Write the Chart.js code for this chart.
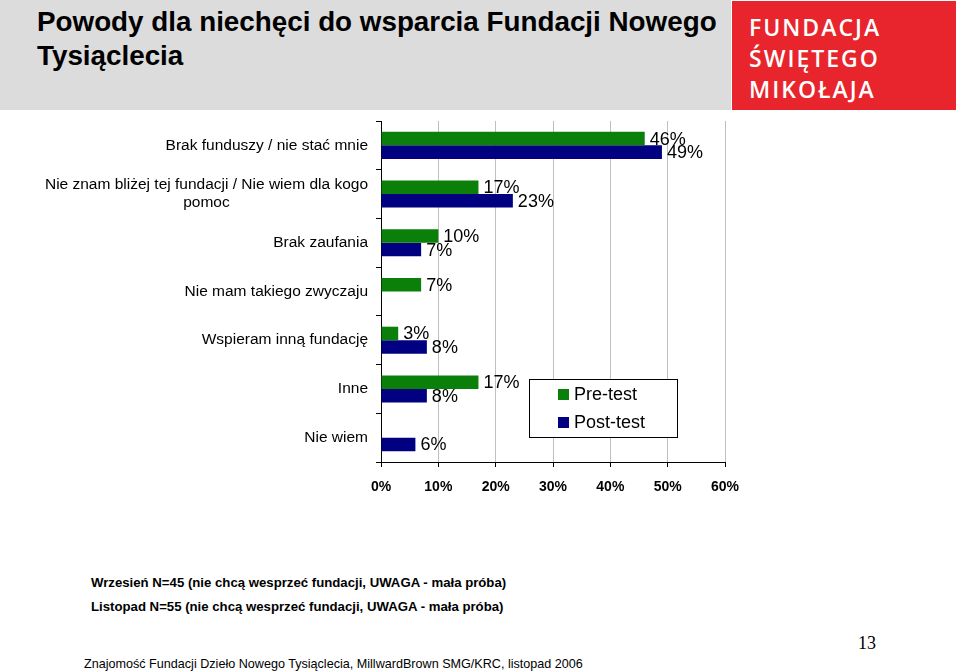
<!DOCTYPE html>
<html>
<head>
<meta charset="utf-8">
<script src="https://cdn.jsdelivr.net/npm/chart.js"></script>
<style>
body { margin: 0; width: 960px; height: 672px; position: relative; background: #fff; overflow: hidden;
       font-family: "Liberation Sans", Arial, sans-serif; color: #000; }
#head { position: absolute; left: 0; top: 0; width: 731px; height: 110px; background: #dcdcdc; }
#title { position: absolute; left: 37px; top: 5px; font-size: 27.8px; font-weight: bold; line-height: 34px; }
#logo { position: absolute; left: 732px; top: 1px; width: 224px; height: 109px; background: #e8252c; }
#logo div { position: absolute; left: 17px; top: 11px; color: #fff; font-family: "Open Sans", sans-serif;
            font-weight: 600; font-size: 23px; line-height: 31px; letter-spacing: 2px; }
#notes { position: absolute; left: 91px; top: 571px; font-size: 13.2px; font-weight: bold; line-height: 24px; }
#source { position: absolute; left: 84px; top: 657px; font-size: 12.6px; }
#page { position: absolute; left: 858px; top: 633px; font-family: "Liberation Serif", serif; font-size: 18px; }
#myChart { position: absolute; left: 0; top: 0; }
</style>
</head>
<body>
<div id="head"><div id="title">Powody dla niechęci do wsparcia Fundacji Nowego<br>Tysiąclecia</div></div>
<div id="logo"><div>FUNDACJA<br>ŚWIĘTEGO<br>MIKOŁAJA</div></div>
<div id="notes">Wrzesień N=45 (nie chcą wesprzeć fundacji, UWAGA - mała próba)<br>Listopad N=55 (nie chcą wesprzeć fundacji, UWAGA - mała próba)</div>
<div id="source">Znajomość Fundacji Dzieło Nowego Tysiąclecia, MillwardBrown SMG/KRC, listopad 2006</div>
<div id="page">13</div>
<canvas id="myChart" width="960" height="672"></canvas>
<script>
const kategorie = [
    'Brak funduszy / nie stać mnie',
    ['Nie znam bliżej tej fundacji / Nie wiem dla kogo', 'pomoc'],
    'Brak zaufania',
    'Nie mam takiego zwyczaju',
    'Wspieram inną fundację',
    'Inne',
    'Nie wiem'
];
const preTest = [46, 17, 10, 7, 3, 17, null];
const postTest = [49, 23, 7, null, 8, 8, 6];
const serie = ['Pre-test', 'Post-test'];
const xMin = 0, xMax = 60, xKrok = 10;

const FONT = '"Liberation Sans", Arial, sans-serif';

// etykiety kategorii: jedna linia do prawej, kilka linii wyśrodkowane
const etykietyY = {
    id: 'etykietyY',
    afterDraw(chart) {
        const ctx = chart.ctx, y = chart.scales.y;
        const prawo = chart.chartArea.left - 13;
        ctx.save();
        ctx.font = '15.5px ' + FONT;
        ctx.fillStyle = '#000';
        ctx.textAlign = 'center';
        ctx.textBaseline = 'middle';
        kategorie.forEach((k, i) => {
            const linie = Array.isArray(k) ? k : [k];
            const w = Math.max(...linie.map(l => ctx.measureText(l).width));
            const cy = y.getPixelForValue(i);
            linie.forEach((l, j) => {
                ctx.fillText(l, prawo - w / 2, cy + (j - (linie.length - 1) / 2) * 18);
            });
        });
        ctx.restore();
    }
};

// wartosci przy slupkach
const wartosci = {
    id: 'wartosci',
    afterDatasetsDraw(chart) {
        const ctx = chart.ctx;
        ctx.save();
        ctx.font = '18px ' + FONT;
        ctx.fillStyle = '#000';
        ctx.textAlign = 'left';
        ctx.textBaseline = 'middle';
        chart.data.datasets.forEach((ds, d) => {
            chart.getDatasetMeta(d).data.forEach((bar, i) => {
                if (ds.data[i] == null) return;
                ctx.fillText(ds.data[i] + '%', bar.x + 5, bar.y + 1);
            });
        });
        ctx.restore();
    }
};

// legenda w ramce wewnatrz wykresu
const legenda = {
    id: 'legenda',
    afterDraw(chart) {
        const ctx = chart.ctx;
        const lx = 529, ly = 379, lw = 148, lh = 58;
        ctx.save();
        ctx.fillStyle = '#fff';
        ctx.fillRect(lx, ly, lw, lh);
        ctx.strokeStyle = '#000';
        ctx.lineWidth = 1;
        ctx.strokeRect(lx + 0.5, ly + 0.5, lw, lh);
        ctx.font = '18px ' + FONT;
        ctx.textAlign = 'left';
        ctx.textBaseline = 'middle';
        chart.data.datasets.forEach((ds, d) => {
            ctx.fillStyle = ds.backgroundColor;
            ctx.fillRect(lx + 29, ly + 10 + d * 28, 11, 11);
            ctx.fillStyle = '#000';
            ctx.fillText(ds.label, lx + 45, ly + 16 + d * 28);
        });
        ctx.restore();
    }
};

const ctx = document.getElementById('myChart');

theChart = new Chart(ctx, {
    type: 'bar',
    data: {
        labels: kategorie,
        datasets: [{
            label: serie[0],
            data: preTest,
            backgroundColor: '#0a800a',
            categoryPercentage: 0.555,
            barPercentage: 1
        },
        {
            label: serie[1],
            data: postTest,
            backgroundColor: '#000080',
            categoryPercentage: 0.555,
            barPercentage: 1
        }]
    },
    options: {
        indexAxis: 'y',
        responsive: false,
        animation: false,
        devicePixelRatio: 1,
        layout: {
            padding: { left: 375, top: 121, right: 235, bottom: 170 }
        },
        plugins: {
            legend: { display: false },
            tooltip: { enabled: false }
        },
        scales: {
            x: {
                min: xMin,
                max: xMax,
                ticks: {
                    stepSize: xKrok,
                    color: '#000',
                    padding: 12,
                    font: { family: FONT, size: 14, weight: 'bold' },
                    callback: v => v + '%'
                },
                grid: { color: '#c0c0c0', tickColor: '#000', tickLength: 5 },
                border: { color: '#000' },
                afterFit: s => { s.height = 40; }
            },
            y: {
                ticks: { display: false },
                grid: { drawOnChartArea: false, color: '#000', tickLength: 5 },
                border: { color: '#000' },
                afterFit: s => { s.width = 6; }
            }
        }
    },
    plugins: [etykietyY, wartosci, legenda]
});
</script>
</body>
</html>
